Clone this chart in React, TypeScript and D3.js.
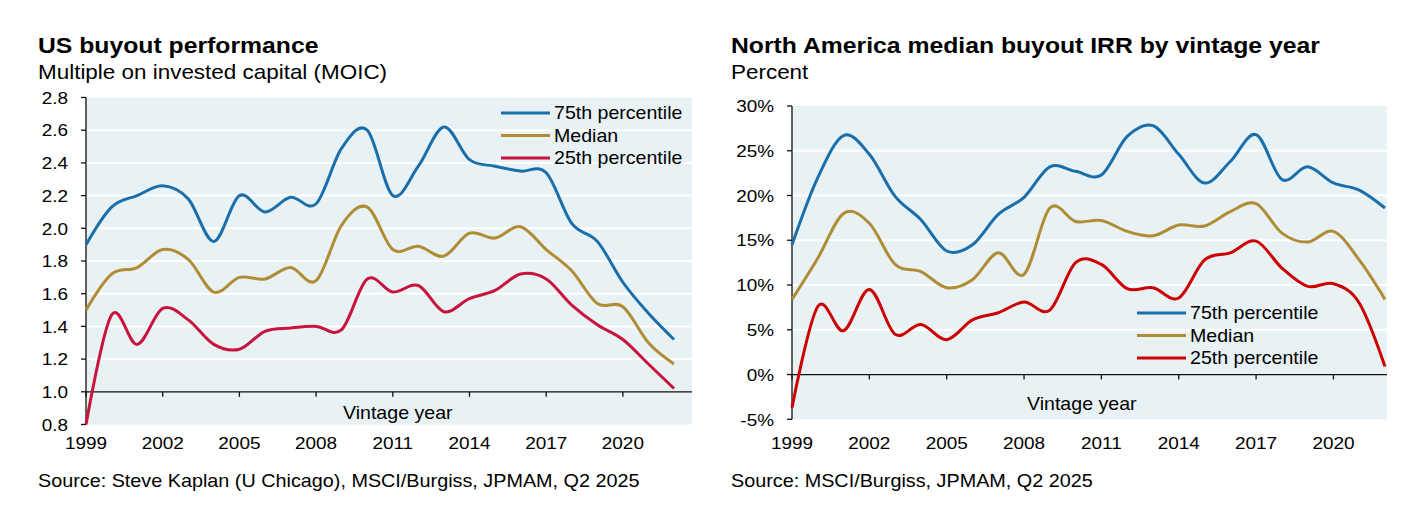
import * as d3 from 'd3'
import React from 'react'

// vintage years (categories)
const years = [
    1999, 2000, 2001, 2002, 2003, 2004, 2005, 2006, 2007, 2008, 2009, 2010,
    2011, 2012, 2013, 2014, 2015, 2016, 2017, 2018, 2019, 2020, 2021, 2022,
]
const tickYears = [1999, 2002, 2005, 2008, 2011, 2014, 2017, 2020]

// US buyout MOIC
const usP75 = [1.9, 2.13, 2.2, 2.26, 2.18, 1.92, 2.2, 2.1, 2.19, 2.15, 2.49, 2.6, 2.2, 2.38, 2.62, 2.42, 2.38, 2.35, 2.34, 2.03, 1.92, 1.67, 1.48, 1.32]
const usMedian = [1.5, 1.72, 1.76, 1.87, 1.81, 1.61, 1.7, 1.69, 1.76, 1.68, 2.02, 2.13, 1.87, 1.89, 1.83, 1.97, 1.94, 2.01, 1.87, 1.74, 1.54, 1.52, 1.3, 1.17]
const usP25 = [0.8, 1.47, 1.29, 1.51, 1.44, 1.29, 1.26, 1.37, 1.39, 1.4, 1.38, 1.69, 1.61, 1.65, 1.49, 1.57, 1.62, 1.72, 1.69, 1.53, 1.41, 1.32, 1.17, 1.02]
const usTicks = [0.8, 1.0, 1.2, 1.4, 1.6, 1.8, 2.0, 2.2, 2.4, 2.6, 2.8]

// North America buyout IRR, percent
const naP75 = [14.5, 22.0, 26.7, 24.6, 19.9, 17.3, 13.8, 14.5, 17.9, 19.8, 23.2, 22.7, 22.3, 26.6, 27.8, 24.6, 21.4, 23.8, 26.8, 21.8, 23.2, 21.4, 20.6, 18.6]
const naMedian = [8.4, 13.0, 18.0, 16.9, 12.3, 11.5, 9.7, 10.6, 13.6, 11.2, 18.6, 17.1, 17.2, 16.0, 15.5, 16.7, 16.6, 18.2, 19.1, 15.8, 14.8, 16.0, 12.8, 8.4]
const naP25 = [-3.7, 7.6, 4.9, 9.5, 4.5, 5.6, 3.9, 6.1, 6.9, 8.1, 7.2, 12.5, 12.3, 9.6, 9.7, 8.55, 12.8, 13.6, 14.9, 11.9, 9.85, 10.15, 8.0, 0.9]
const naTicks = [-5, 0, 5, 10, 15, 20, 25, 30]

const seriesNames = ['75th percentile', 'Median', '25th percentile']

const FONT = '"Liberation Sans", Arial, Helvetica, sans-serif'
const SX = 1.1 // text in the reference is a bit wider than Arial
const BLUE = '#1a6faa'
const GOLD = '#b08d35'
const BG = '#e8f1f4'

function T({
    x,
    y,
    size = 17,
    anchor = 'start',
    weight = 'normal',
    children,
}: {
    x: number
    y: number
    size?: number
    anchor?: string
    weight?: string
    children: React.ReactNode
}) {
    return (
        <text
            transform={`translate(${x},${y}) scale(${SX},1)`}
            fontSize={size}
            fontFamily={FONT}
            fontWeight={weight}
            textAnchor={anchor}
            fill="#000"
        >
            {children}
        </text>
    )
}

interface PanelProps {
    left: number
    right: number
    bgRight: number
    top: number
    bottom: number
    domain: [number, number]
    ticks: number[]
    axisAt: number
    fmt: (v: number) => string
    series: number[][]
    colors: string[]
    title: string
    subtitle: string
    source: string
    textX: number
    legend: { x: number; y: number }
    vintage: { x: number; y: number }
}

function Panel(p: PanelProps) {
    const x = d3.scaleLinear().domain([years[0], years[years.length - 1]]).range([p.left, p.right])
    const y = d3.scaleLinear().domain(p.domain).range([p.bottom, p.top])
    const line = d3
        .line<number>()
        .x((_, i) => x(years[i]))
        .y((d) => y(d))
        .curve(d3.curveCardinal.tension(0))
    const axisY = y(p.axisAt)

    return (
        <g>
            <T x={p.textX} y={52.5} size={22.5} weight="bold">
                {p.title}
            </T>
            <T x={p.textX} y={79} size={20.4}>
                {p.subtitle}
            </T>

            <rect x={p.left} y={p.top} width={p.bgRight - p.left} height={p.bottom - p.top} fill={BG} />
            {p.ticks
                .filter((t) => t !== p.axisAt && t !== p.domain[0] && t !== p.domain[1])
                .map((t) => (
                    <line key={t} x1={p.left} x2={p.bgRight} y1={y(t)} y2={y(t)} stroke="#fff" strokeWidth={2} />
                ))}

            {/* y axis */}
            <line x1={p.left} x2={p.left} y1={p.top} y2={p.bottom} stroke="#111" strokeWidth={1.3} />
            {p.ticks.map((t) => (
                <g key={t}>
                    <line x1={p.left - 5} x2={p.left} y1={y(t)} y2={y(t)} stroke="#111" strokeWidth={1.3} />
                    <T x={p.left - 18} y={y(t) + 6.2} size={17.2} anchor="end">
                        {p.fmt(t)}
                    </T>
                </g>
            ))}

            {/* x axis */}
            <line x1={p.left} x2={p.bgRight} y1={axisY} y2={axisY} stroke="#111" strokeWidth={1.3} />
            {tickYears.map((yr) => (
                <g key={yr}>
                    <line x1={x(yr)} x2={x(yr)} y1={axisY} y2={axisY + 5} stroke="#111" strokeWidth={1.3} />
                    <T x={x(yr)} y={448.5} size={17.2} anchor="middle">
                        {yr}
                    </T>
                </g>
            ))}
            <T x={p.vintage.x} y={p.vintage.y} size={17.8}>
                Vintage year
            </T>

            {p.series.map((s, i) => (
                <path
                    key={i}
                    d={line(s) ?? ''}
                    fill="none"
                    stroke={p.colors[i]}
                    strokeWidth={3}
                    strokeLinejoin="round"
                />
            ))}

            {/* legend */}
            {seriesNames.map((name, i) => {
                const ly = p.legend.y + i * 22.5
                return (
                    <g key={name}>
                        <line x1={p.legend.x} x2={p.legend.x + 49} y1={ly} y2={ly} stroke={p.colors[i]} strokeWidth={3} />
                        <T x={p.legend.x + 53} y={ly + 6.3} size={17.8}>
                            {name}
                        </T>
                    </g>
                )
            })}

            <T x={p.textX} y={486.5} size={18}>
                {p.source}
            </T>
        </g>
    )
}

export default function App() {
    return (
        <svg
            width={1428}
            height={506}
            style={{ position: 'fixed', left: 0, top: 0, background: '#fff' }}
        >
            <rect width={1428} height={506} fill="#fff" />
            <Panel
                left={86}
                right={674}
                bgRight={692}
                top={97.5}
                bottom={424.5}
                domain={[0.8, 2.8]}
                ticks={usTicks}
                axisAt={1.0}
                fmt={d3.format('.1f')}
                series={[usP75, usMedian, usP25]}
                colors={[BLUE, GOLD, '#c8143c']}
                title="US buyout performance"
                subtitle="Multiple on invested capital (MOIC)"
                source="Source: Steve Kaplan (U Chicago), MSCI/Burgiss, JPMAM, Q2 2025"
                textX={38}
                legend={{ x: 501, y: 113 }}
                vintage={{ x: 343, y: 419 }}
            />
            <Panel
                left={792}
                right={1385}
                bgRight={1387}
                top={106}
                bottom={419.3}
                domain={[-5, 30]}
                ticks={naTicks}
                axisAt={0}
                fmt={(v) => `${v}%`}
                series={[naP75, naMedian, naP25]}
                colors={[BLUE, GOLD, '#cc0000']}
                title="North America median buyout IRR by vintage year"
                subtitle="Percent"
                source="Source: MSCI/Burgiss, JPMAM, Q2 2025"
                textX={731}
                legend={{ x: 1137, y: 313 }}
                vintage={{ x: 1027, y: 410 }}
            />
        </svg>
    )
}
